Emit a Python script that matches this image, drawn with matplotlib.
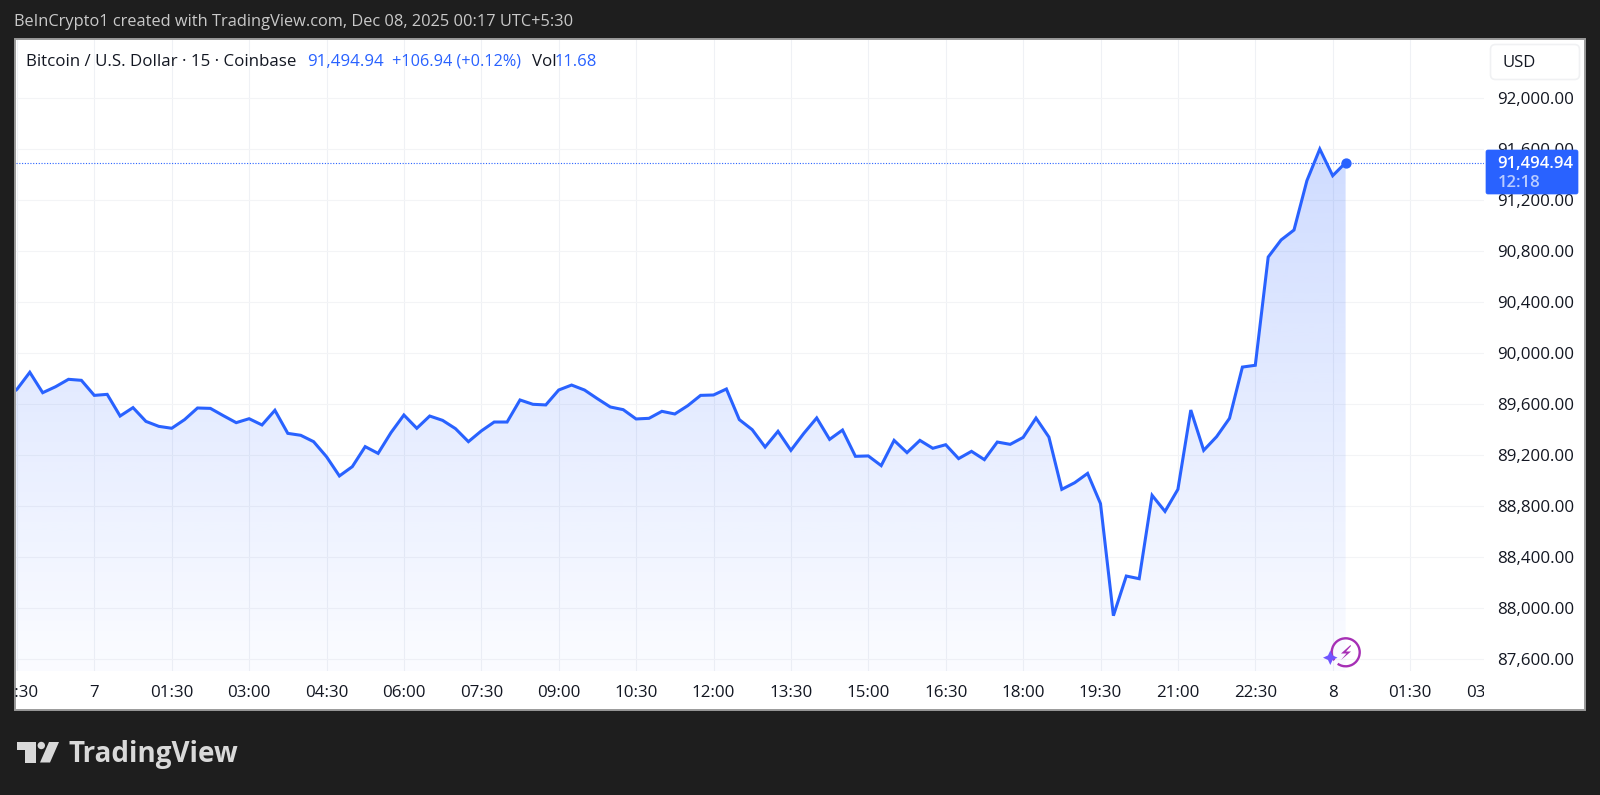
import numpy as np
import matplotlib
matplotlib.use('Agg')
import matplotlib.pyplot as plt
from matplotlib.patches import Rectangle, FancyBboxPatch, Polygon, Circle, Arc

# 15 minute closes, bar 0 is midnight on the 7th
prices = [
    89640, 89717, 89851, 89691, 89738, 89796, 89788, 89670, 89678, 89508,
    89574, 89466, 89427, 89412, 89480, 89571, 89568, 89511, 89456, 89487,
    89438, 89553, 89372, 89357, 89307, 89189, 89038, 89111, 89268, 89215,
    89378, 89516, 89412, 89508, 89474, 89409, 89307, 89391, 89461, 89461,
    89634, 89600, 89595, 89712, 89751, 89712, 89644, 89579, 89558, 89485,
    89490, 89545, 89524, 89589, 89670, 89673, 89720, 89480, 89401, 89265,
    89388, 89239, 89372, 89493, 89325, 89398, 89192, 89195, 89119, 89317,
    89221, 89317, 89255, 89283, 89174, 89231, 89166, 89304, 89286, 89340,
    89492, 89343, 88933, 88985, 89058, 88821, 87942, 88253, 88232, 88886,
    88760, 88933, 89555, 89239, 89346, 89490, 89892, 89906, 90755, 90889,
    90967, 91354, 91602, 91393, 91494.94,
]
bars = np.arange(-7, 98)

time_ticks = [-6, 0, 6, 12, 18, 24, 30, 36, 42, 48, 54, 60, 66, 72, 78, 84, 90, 96, 102, 108]
time_labels = ['22:30', '7', '01:30', '03:00', '04:30', '06:00', '07:30', '09:00', '10:30', '12:00',
               '13:30', '15:00', '16:30', '18:00', '19:30', '21:00', '22:30', '8', '01:30', '03:00']
price_ticks = [87600, 88000, 88400, 88800, 89200, 89600, 90000, 90400, 90800, 91200, 91600, 92000]

BLUE = '#2962ff'
FONT = 'Open Sans'
W, H = 1600, 795
plt.rcParams['font.family'] = [FONT, 'DejaVu Sans']

fig = plt.figure(figsize=(16, 7.95), dpi=100, facecolor='#1e1e1e')

# background layer in pixels, y going down
bg = fig.add_axes([0, 0, 1, 1], zorder=0)
bg.set_xlim(0, W)
bg.set_ylim(H, 0)
bg.axis('off')
bg.add_patch(Rectangle((14.5, 38.5), 1570.5, 671, facecolor='white', edgecolor='#9a9a9a', linewidth=1.4))

# the price pane
left, right, top, bottom = 16, 1484, 40, 671
ax = fig.add_axes([left / W, 1 - bottom / H, (right - left) / W, (bottom - top) / H], zorder=1)
ax.patch.set_alpha(0)
for s in ax.spines.values():
    s.set_visible(False)
ax.set_xlim((left - 94.3) / 12.9, (right - 94.3) / 12.9)
ax.set_ylim(87600 - (bottom - 659.3) / 0.1275, 87600 + (659.3 - top) / 0.1275)
ax.set_xticks(time_ticks[:-1])
ax.set_xticklabels([])
ax.set_yticks(price_ticks)
ax.set_yticklabels([f'{p:,.2f}' for p in price_ticks], fontsize=12.2, color='#131722')
ax.yaxis.tick_right()
ax.tick_params(length=0)
ax.tick_params(axis='y', pad=9.5)
ax.grid(True, axis='x', color='#eff1f5', linewidth=0.8, zorder=0)
ax.grid(True, axis='y', color='#f3f4f6', linewidth=0.8, zorder=0)
ax.set_axisbelow(True)

# gradient under the line, clipped to the area below it
y0, y1 = ax.get_ylim()
alpha = np.linspace(0.225, 0.02, 256).reshape(-1, 1)
rgba = np.zeros((256, 1, 4))
rgba[..., :3] = matplotlib.colors.to_rgb(BLUE)
rgba[..., 3] = alpha[:, 0].reshape(-1, 1)
peak = max(prices)
grad = ax.imshow(rgba, extent=[bars[0], bars[-1], y0, peak], aspect='auto', origin='upper', zorder=1,
                 interpolation='bilinear')
ax.set_xlim((left - 94.3) / 12.9, (right - 94.3) / 12.9)
ax.set_ylim(y0, y1)
area = ax.fill_between(bars, prices, y0, facecolor='none', edgecolor='none')
grad.set_clip_path(area.get_paths()[0], transform=ax.transData)

ax.axhline(prices[-1], color=BLUE, linewidth=0.8, linestyle=(0, (1, 1.5)), zorder=2)
ax.plot(bars, prices, color=BLUE, linewidth=2.2, solid_joinstyle='miter', zorder=3)
ax.plot(bars[-1], prices[-1], 'o', color=BLUE, markersize=6.4, zorder=4)

# time labels get cut by the pane edges, same as the original
clip = Rectangle((15, 672), 1469, 36, transform=bg.transData)
for t, lab in zip(time_ticks, time_labels):
    txt = ax.annotate(lab, (t, 0), xycoords=ax.get_xaxis_transform(), xytext=(0, -16), textcoords='offset points',
                      ha='center', va='center', fontsize=12.2, color='#131722', annotation_clip=False)
    txt.set_clip_on(True)
    txt.set_clip_path(clip)

# overlay: header, price tag, logo
ov = fig.add_axes([0, 0, 1, 1], zorder=2)
ov.set_xlim(0, W)
ov.set_ylim(H, 0)
ov.axis('off')

ov.text(14, 22.5, 'BeInCrypto1 created with TradingView.com, Dec 08, 2025 00:17 UTC+5:30',
        color='#c9c9c9', fontsize=11.8, va='center')
ov.text(25.5, 62, 'Bitcoin / U.S. Dollar · 15 · Coinbase', color='#131722', fontsize=12.2, va='center')
ov.text(307, 62, '91,494.94', color=BLUE, fontsize=12.2, va='center')
ov.text(392, 62, '+106.94 (+0.12%)', color=BLUE, fontsize=11.7, va='center')
ov.text(532, 62, 'Vol', color='#131722', fontsize=12.2, va='center')
ov.text(555, 62, '11.68', color=BLUE, fontsize=12, va='center')

ov.add_patch(FancyBboxPatch((1490.5, 44.5), 89, 35, boxstyle='round,pad=0,rounding_size=5',
                            facecolor='white', edgecolor='#f0f1f3', linewidth=1.2))
ov.text(1503, 63, 'USD', color='#131722', fontsize=12, va='center')

ov.add_patch(FancyBboxPatch((1486, 150), 92, 44, boxstyle='round,pad=0,rounding_size=2',
                            facecolor=BLUE, edgecolor=BLUE, linewidth=0.5))
ov.text(1497.5, 163.5, '91,494.94', color='white', fontsize=12, fontweight='semibold', va='center')
ov.text(1497.5, 183, '12:18', color='#b9ccff', fontsize=12, fontweight='semibold', va='center')

# lightning badge
ov.add_patch(Arc((1345.7, 652.3), 28, 28, theta1=-215, theta2=125, color='#a62fb5', linewidth=1.7))
ov.add_patch(Polygon([(1350.5, 645), (1341, 653.5), (1346.5, 653.5), (1341, 660), (1351, 651.5), (1346, 651.5), (1351, 646)],
                     closed=True, facecolor='#a62fb5', edgecolor='none'))
ov.add_patch(Polygon([(1330.3, 650.5), (1332.6, 655.4), (1337.5, 657.7), (1332.6, 660), (1330.3, 665),
                      (1328, 660), (1323, 657.7), (1328, 655.4)],
                     closed=True, facecolor='#6f55ff', edgecolor='none'))

# TradingView logo
LOGO = '#d9d9d9'
ov.add_patch(Polygon([(17, 742), (35.5, 742), (35.5, 762.5), (25, 762.5), (25, 749.5), (17, 749.5)],
                     closed=True, facecolor=LOGO, edgecolor='none'))
ov.add_patch(Circle((41.3, 745.5), 3.7, facecolor=LOGO, edgecolor='none'))
ov.add_patch(Polygon([(49, 742), (59, 742), (50, 762.5), (40, 762.5)], closed=True, facecolor=LOGO, edgecolor='none'))
ov.text(68.5, 762.3, 'TradingView', color=LOGO, fontsize=20, fontweight='bold', va='baseline')

fig.savefig('out.png', dpi=100, facecolor=fig.get_facecolor())
